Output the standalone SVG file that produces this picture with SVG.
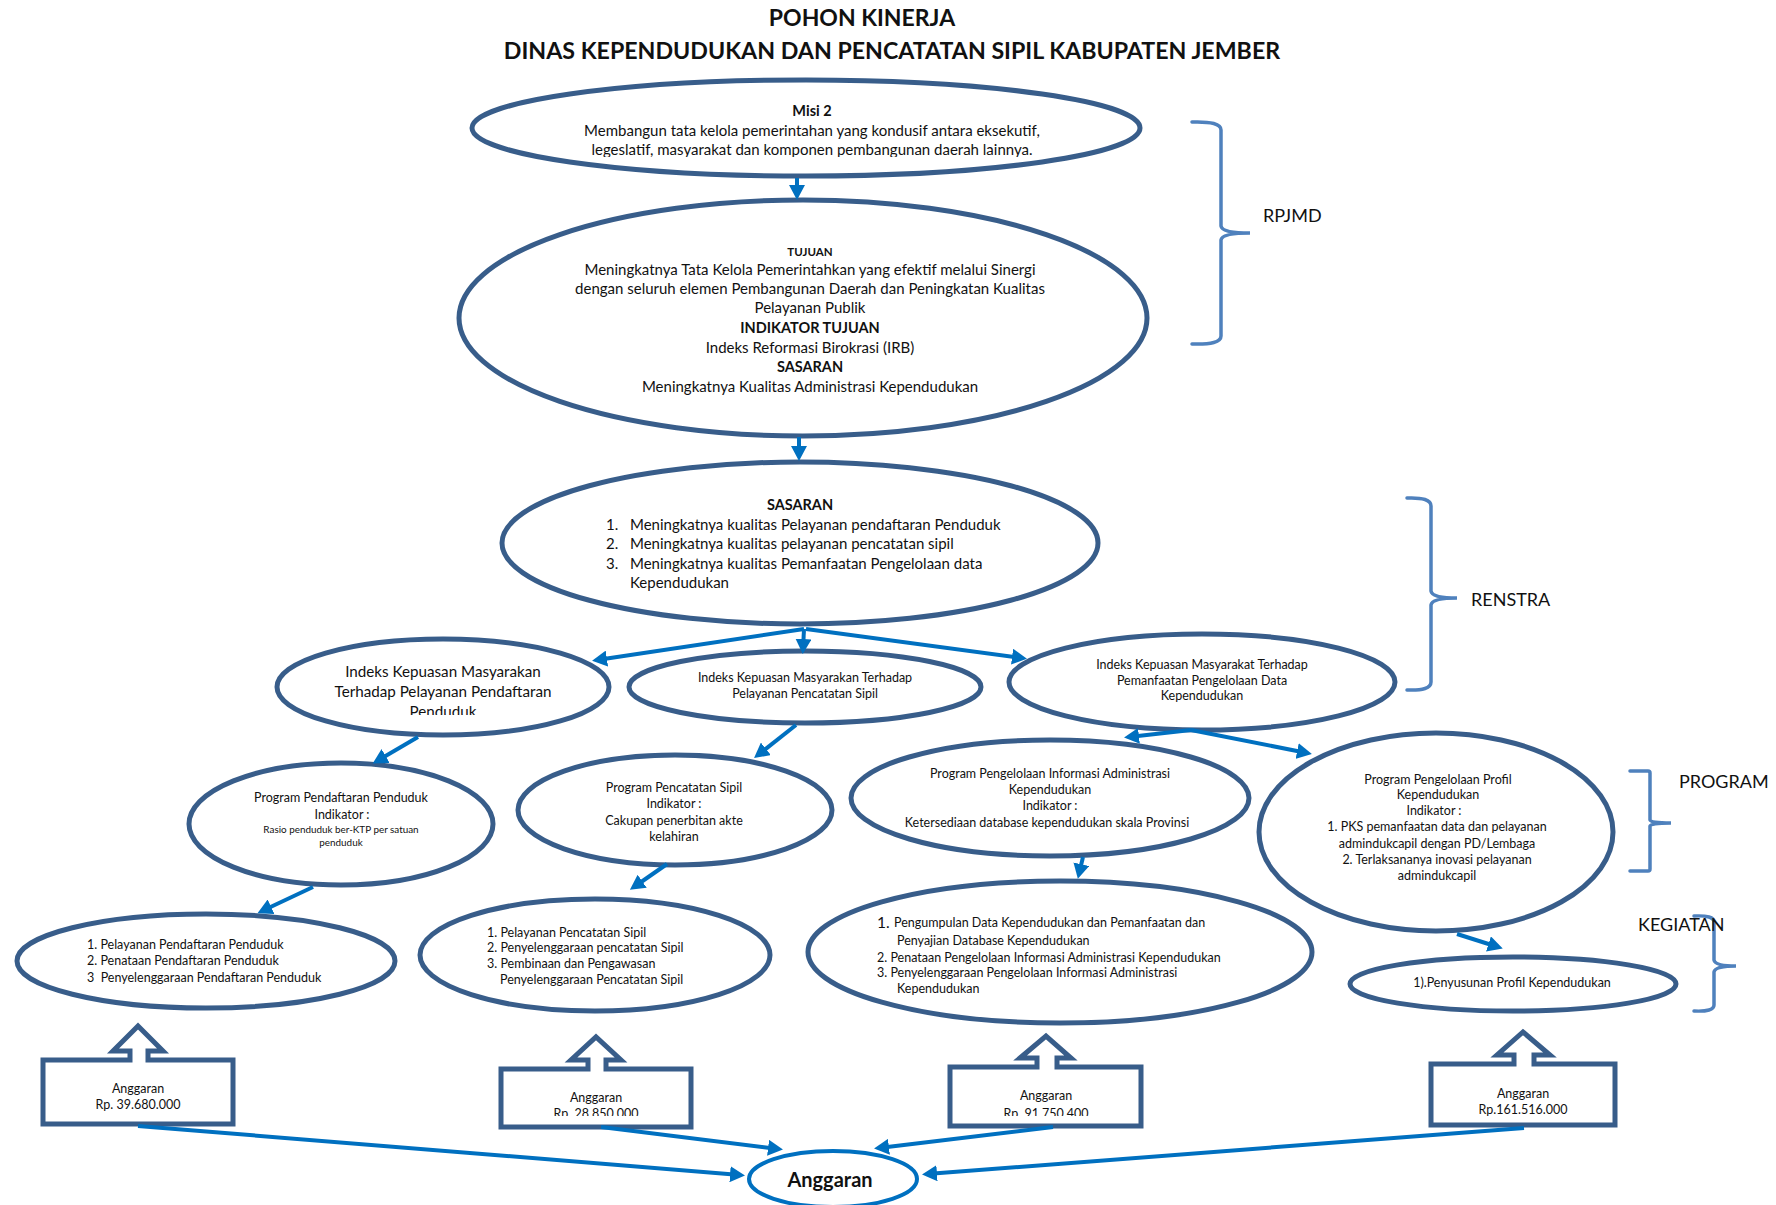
<svg xmlns="http://www.w3.org/2000/svg" width="1776" height="1205" viewBox="0 0 1776 1205">
<defs>
<style>
text{font-family:Lato,"Liberation Sans","DejaVu Sans",sans-serif;fill:#111;}
.node{fill:#fff;stroke:#385D8A;stroke-width:5;}
.call{fill:#fff;stroke:#385D8A;stroke-width:5;stroke-linejoin:miter;}
.br{fill:none;stroke:#4F81BD;stroke-width:3.5;stroke-linecap:round;}
.con{fill:none;stroke:#0070C0;stroke-width:4;marker-end:url(#ah);}
.b{font-weight:bold;}
.c{text-anchor:middle;}
.s{font-size:12.5px;}
</style>
<marker id="ah" markerUnits="userSpaceOnUse" markerWidth="16" markerHeight="16" viewBox="0 0 16 16" refX="10" refY="8" orient="auto">
<path d="M0,0 L15,8 L0,16 Z" fill="#0070C0"/>
</marker>
<clipPath id="clipMisi"><rect x="400" y="60" width="800" height="97"/></clipPath>
<clipPath id="clipI1"><rect x="250" y="630" width="400" height="85"/></clipPath>
<clipPath id="clipA2"><rect x="480" y="1060" width="230" height="56"/></clipPath>
<clipPath id="clipA3"><rect x="930" y="1060" width="230" height="56"/></clipPath>
</defs>
<rect width="1776" height="1205" fill="#fff"/>

<g id="title">
<text class="b c" x="862" y="26" font-size="23">POHON KINERJA</text>
<text class="b c" x="892" y="59" font-size="23.2">DINAS KEPENDUDUKAN DAN PENCATATAN SIPIL KABUPATEN JEMBER</text>
</g>

<g id="misi">
<ellipse class="node" cx="806" cy="128" rx="334" ry="48"/>
<g clip-path="url(#clipMisi)">
<text class="b c" x="812" y="116" font-size="14.5">Misi 2</text>
<text class="c" x="812" y="136" font-size="15">Membangun tata kelola pemerintahan yang kondusif antara eksekutif,</text>
<text class="c" x="812" y="155" font-size="15">legeslatif, masyarakat dan komponen pembangunan daerah lainnya.</text>
</g>
</g>

<g id="tujuan">
<ellipse class="node" cx="803" cy="318" rx="344" ry="118"/>
<text class="b c" x="810" y="256" font-size="11.5">TUJUAN</text>
<text class="c" x="810" y="275" font-size="15">Meningkatnya Tata Kelola Pemerintahkan yang efektif melalui Sinergi</text>
<text class="c" x="810" y="294" font-size="15">dengan seluruh elemen Pembangunan Daerah dan Peningkatan Kualitas</text>
<text class="c" x="810" y="313" font-size="15">Pelayanan Publik</text>
<text class="b c" x="810" y="333" font-size="14.5">INDIKATOR TUJUAN</text>
<text class="c" x="810" y="353" font-size="15">Indeks Reformasi Birokrasi (IRB)</text>
<text class="b c" x="810" y="372" font-size="14.5">SASARAN</text>
<text class="c" x="810" y="392" font-size="15">Meningkatnya Kualitas Administrasi Kependudukan</text>
</g>

<g id="sasaran">
<ellipse class="node" cx="800" cy="543" rx="298" ry="81"/>
<text class="b c" x="800" y="510" font-size="14.5">SASARAN</text>
<text x="606" y="530" font-size="15">1.</text>
<text x="630" y="530" font-size="15">Meningkatnya kualitas Pelayanan pendaftaran Penduduk</text>
<text x="606" y="549" font-size="15">2.</text>
<text x="630" y="549" font-size="15">Meningkatnya kualitas pelayanan pencatatan sipil</text>
<text x="606" y="569" font-size="15">3.</text>
<text x="630" y="569" font-size="15">Meningkatnya kualitas Pemanfaatan Pengelolaan data</text>
<text x="630" y="588" font-size="15">Kependudukan</text>
</g>

<g id="indeks1">
<ellipse class="node" cx="443" cy="687" rx="166" ry="48"/>
<g clip-path="url(#clipI1)">
<text class="c" x="443" y="677" font-size="15.2">Indeks Kepuasan Masyarakan</text>
<text class="c" x="443" y="697" font-size="15.2">Terhadap Pelayanan Pendaftaran</text>
<text class="c" x="443" y="717" font-size="15.2">Penduduk</text>
</g>
</g>

<g id="indeks2">
<ellipse class="node" cx="805" cy="687" rx="176" ry="36"/>
<text class="c s" x="805" y="682">Indeks Kepuasan Masyarakan Terhadap</text>
<text class="c s" x="805" y="698">Pelayanan Pencatatan Sipil</text>
</g>

<g id="indeks3">
<ellipse class="node" cx="1202" cy="682" rx="193" ry="48"/>
<text class="c s" x="1202" y="669">Indeks Kepuasan Masyarakat Terhadap</text>
<text class="c s" x="1202" y="685">Pemanfaatan Pengelolaan Data</text>
<text class="c s" x="1202" y="700">Kependudukan</text>
</g>

<g id="program1">
<ellipse class="node" cx="341" cy="824" rx="152" ry="61"/>
<text class="c s" x="341" y="802">Program Pendaftaran Penduduk</text>
<text class="c s" x="342" y="819">Indikator :</text>
<text class="c" x="341" y="833" font-size="9.9">Rasio penduduk ber-KTP per satuan</text>
<text class="c" x="341" y="846" font-size="9.9">penduduk</text>
</g>

<g id="program2">
<ellipse class="node" cx="675" cy="810" rx="157" ry="55"/>
<text class="c s" x="674" y="792">Program Pencatatan Sipil</text>
<text class="c s" x="674" y="808">Indikator :</text>
<text class="c s" x="674" y="825">Cakupan penerbitan akte</text>
<text class="c s" x="674" y="841">kelahiran</text>
</g>

<g id="program3">
<ellipse class="node" cx="1050" cy="798" rx="199" ry="58"/>
<text class="c s" x="1050" y="778">Program Pengelolaan Informasi Administrasi</text>
<text class="c s" x="1050" y="794">Kependudukan</text>
<text class="c s" x="1050" y="810">Indikator :</text>
<text class="c s" x="1047" y="827">Ketersediaan database kependudukan skala Provinsi</text>
</g>

<g id="program4">
<ellipse class="node" cx="1436" cy="832" rx="177" ry="99"/>
<text class="c s" x="1438" y="784">Program Pengelolaan Profil</text>
<text class="c s" x="1438" y="799">Kependudukan</text>
<text class="c s" x="1434" y="815">Indikator :</text>
<text class="c s" x="1437" y="831">1. PKS pemanfaatan data dan pelayanan</text>
<text class="c s" x="1437" y="848">admindukcapil dengan PD/Lembaga</text>
<text class="c s" x="1437" y="864">2. Terlaksananya inovasi pelayanan</text>
<text class="c s" x="1437" y="880">admindukcapil</text>
</g>

<g id="kegiatan1">
<ellipse class="node" cx="206" cy="961" rx="189" ry="47"/>
<text class="s" x="87" y="949">1. Pelayanan Pendaftaran Penduduk</text>
<text class="s" x="87" y="965">2. Penataan Pendaftaran Penduduk</text>
<text class="s" x="87" y="982" xml:space="preserve">3  Penyelenggaraan Pendaftaran Penduduk</text>
</g>

<g id="kegiatan2">
<ellipse class="node" cx="595" cy="955" rx="175" ry="56"/>
<text class="s" x="487" y="937">1. Pelayanan Pencatatan Sipil</text>
<text class="s" x="487" y="952">2. Penyelenggaraan pencatatan Sipil</text>
<text class="s" x="487" y="968">3. Pembinaan dan Pengawasan</text>
<text class="s" x="500" y="984">Penyelenggaraan Pencatatan Sipil</text>
</g>

<g id="kegiatan3">
<ellipse class="node" cx="1060" cy="952" rx="252" ry="71"/>
<text x="877" y="928" font-size="15.5">1.</text>
<text class="s" x="894" y="927">Pengumpulan Data Kependudukan dan Pemanfaatan dan</text>
<text class="s" x="897" y="945">Penyajian Database Kependudukan</text>
<text class="s" x="877" y="962">2. Penataan Pengelolaan Informasi Administrasi Kependudukan</text>
<text class="s" x="877" y="977">3. Penyelenggaraan Pengelolaan Informasi Administrasi</text>
<text class="s" x="897" y="993">Kependudukan</text>
</g>

<g id="kegiatan4">
<ellipse class="node" cx="1513" cy="984" rx="163" ry="27"/>
<text class="c s" x="1512" y="987">1).Penyusunan Profil Kependudukan</text>
</g>

<g id="anggaran1">
<path class="call" d="M43,1060 L130,1060 L130,1051 L113,1051 L138,1026 L163,1051 L148,1051 L148,1060 L233,1060 L233,1124 L43,1124 Z"/>
<text class="c s" x="138" y="1093">Anggaran</text>
<text class="c s" x="138" y="1109">Rp. 39.680.000</text>
</g>

<g id="anggaran2">
<path class="call" d="M501,1069 L588,1069 L588,1060 L571,1060 L596,1037 L621,1060 L606,1060 L606,1069 L691,1069 L691,1127 L501,1127 Z"/>
<text class="c s" x="596" y="1102">Anggaran</text>
<g clip-path="url(#clipA2)"><text class="c s" x="596" y="1118">Rp. 28.850.000</text></g>
</g>

<g id="anggaran3">
<path class="call" d="M950,1067 L1037,1067 L1037,1058 L1020,1058 L1046,1036 L1071,1058 L1057,1058 L1057,1067 L1141,1067 L1141,1126 L950,1126 Z"/>
<text class="c s" x="1046" y="1100">Anggaran</text>
<g clip-path="url(#clipA3)"><text class="c s" x="1046" y="1118">Rp. 91.750.400</text></g>
</g>

<g id="anggaran4">
<path class="call" d="M1431,1064 L1514,1064 L1514,1055 L1497,1055 L1523,1032 L1550,1055 L1534,1055 L1534,1064 L1615,1064 L1615,1125 L1431,1125 Z"/>
<text class="c s" x="1523" y="1098">Anggaran</text>
<text class="c s" x="1523" y="1114">Rp.161.516.000</text>
</g>

<g id="anggaran-total">
<ellipse cx="833" cy="1179" rx="84" ry="28" fill="#fff" stroke="#0070C0" stroke-width="4"/>
<text class="b c" x="830" y="1187" font-size="20">Anggaran</text>
</g>

<g id="labels">
<path class="br" d="M1192,122 Q1221,121 1221,130 L1221,226 Q1222,233 1250,233 Q1222,233 1221,240 L1221,336 Q1221,345 1192,344"/>
<text x="1263" y="222" font-size="18">RPJMD</text>
<path class="br" d="M1407,498 Q1431,497 1431,506 L1431,591 Q1432,598 1457,598 Q1432,598 1431,605 L1431,682 Q1431,691 1407,690"/>
<text x="1471" y="606" font-size="18">RENSTRA</text>
<path class="br" d="M1630,771 L1648,771 Q1650,771 1650,773 L1650,820 Q1650,823 1671,823 Q1650,823 1650,826 L1650,869 Q1650,871 1648,871 L1630,871"/>
<text x="1679" y="788" font-size="18">PROGRAM</text>
<path class="br" d="M1694,916 Q1714,915 1714,922 L1714,960 Q1715,966 1736,966 Q1715,966 1714,972 L1714,1005 Q1714,1012 1694,1011"/>
<text x="1638" y="931" font-size="18">KEGIATAN</text>
</g>

<g id="connectors">
<line class="con" x1="797" y1="178" x2="797" y2="195"/>
<line class="con" x1="799" y1="437" x2="799" y2="456"/>
<line class="con" x1="804" y1="629" x2="597" y2="660"/>
<line class="con" x1="804" y1="629" x2="803" y2="649"/>
<line class="con" x1="806" y1="629" x2="1022" y2="658"/>
<line class="con" x1="418" y1="737" x2="377" y2="761"/>
<line class="con" x1="796" y1="725" x2="758" y2="755"/>
<line class="con" x1="1191" y1="730" x2="1129" y2="737"/>
<line class="con" x1="1191" y1="730" x2="1307" y2="753"/>
<line class="con" x1="313" y1="887" x2="262" y2="911"/>
<line class="con" x1="667" y1="864" x2="634" y2="887"/>
<line class="con" x1="1083" y1="857" x2="1079" y2="874"/>
<line class="con" x1="1457" y1="934" x2="1498" y2="947"/>
<line class="con" x1="138" y1="1126" x2="740" y2="1175"/>
<line class="con" x1="601" y1="1127" x2="778" y2="1149"/>
<line class="con" x1="1053" y1="1127" x2="879" y2="1148"/>
<line class="con" x1="1524" y1="1128" x2="927" y2="1174"/>
</g>
</svg>
